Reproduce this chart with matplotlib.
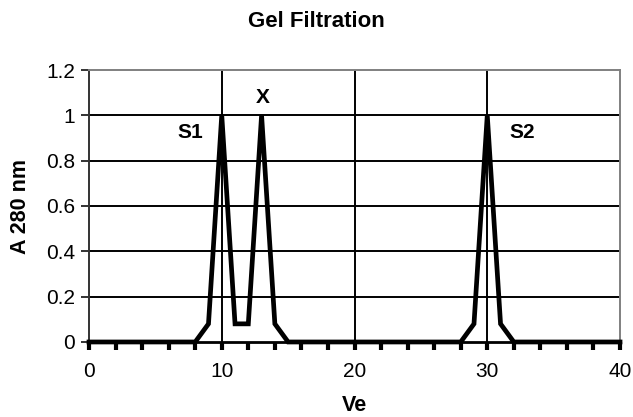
import matplotlib
matplotlib.use('Agg')
import matplotlib.pyplot as plt

plt.rcParams['font.family'] = ['Liberation Sans', 'DejaVu Sans']

# elution volume and absorbance readings
ve = list(range(0, 41))
a280 = [0, 0, 0, 0, 0, 0, 0, 0, 0, 0.08,
        1, 0.08, 0.08, 1, 0.08, 0, 0, 0, 0, 0,
        0, 0, 0, 0, 0, 0, 0, 0, 0, 0.08,
        1, 0.08, 0, 0, 0, 0, 0, 0, 0, 0,
        0]

peak_labels = ['S1', 'X', 'S2']
peak_x = [7.6, 13.1, 32.6]
peak_y = [0.925, 1.08, 0.925]

x_ticks = [0, 10, 20, 30, 40]
y_ticks = [0, 0.2, 0.4, 0.6, 0.8, 1, 1.2]
y_ticklabels = ['0', '0.2', '0.4', '0.6', '0.8', '1', '1.2']

fig = plt.figure(figsize=(6.33, 4.17), dpi=100)
ax = fig.add_axes([0.1406, 0.1799, 0.8389, 0.6522])

# grid
for yv in y_ticks[1:-1]:
    ax.axhline(yv, color='black', lw=1.4, zorder=1)
for xv in x_ticks[1:-1]:
    ax.axvline(xv, color='black', lw=1.4, zorder=1)

ax.plot(ve, a280, color='black', lw=3.4, solid_joinstyle='miter', zorder=3, clip_on=False)

for lab, px, py in zip(peak_labels, peak_x, peak_y):
    ax.text(px, py, lab, ha='center', va='center', fontsize=15, fontweight='bold')

ax.set_xlim(0, 40)
ax.set_ylim(0, 1.2)
ax.set_xticks(x_ticks)
ax.set_xticks(list(range(0, 41, 2)), minor=True)
ax.set_yticks(y_ticks)
ax.set_yticklabels(y_ticklabels)

ax.tick_params(axis='x', which='both', direction='out', length=6, width=3, color='black',
               labelsize=15, pad=8.5)
ax.tick_params(axis='y', direction='out', length=6, width=1.4, color='#333333',
               labelsize=15, pad=4)

for side in ['top', 'right']:
    ax.spines[side].set_color('#808080')
    ax.spines[side].set_linewidth(1.4)
ax.spines['left'].set_color('#333333')
ax.spines['left'].set_linewidth(1.4)
ax.spines['bottom'].set_color('black')
ax.spines['bottom'].set_linewidth(2)

fig.text(0.56, 0.027, 'Ve', ha='center', va='center', fontsize=15.5, fontweight='bold')
fig.text(0.0324, 0.5036, 'A 280 nm', ha='center', va='center', rotation=90,
         fontsize=15.5, fontweight='bold')
fig.text(0.5, 0.948, 'Gel Filtration', ha='center', va='center', fontsize=16, fontweight='bold')

fig.savefig('out.png', dpi=100)
